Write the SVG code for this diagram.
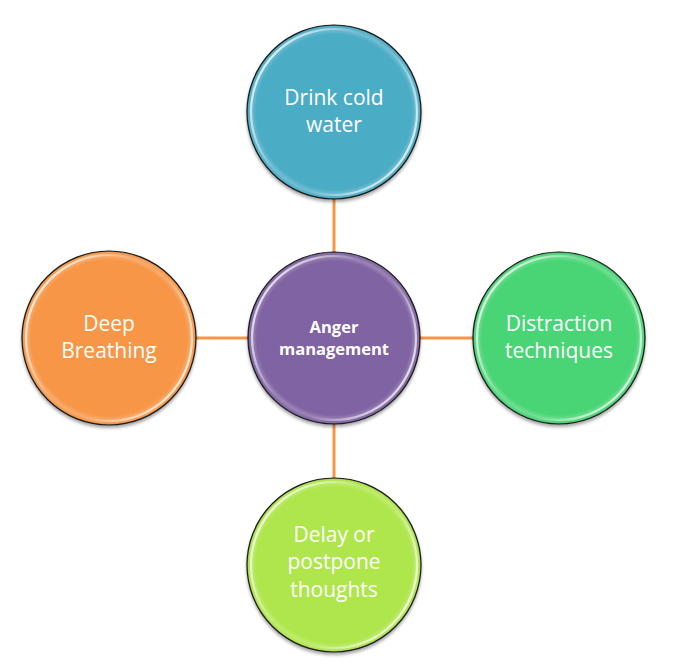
<svg xmlns="http://www.w3.org/2000/svg" width="682" height="666" viewBox="0 0 682 666">
  <style>
    .conn { stroke: #F79646; stroke-width: 3; fill: none; }
    .node { stroke: #1a1a1a; stroke-width: 1.2; filter: url(#shadow); }
    .gloss { fill: url(#gloss); stroke: none; }
    .ring { fill: none; stroke: url(#ringgrad); stroke-width: 2.2; }
    .lbl { font-family: "Open Sans", "Noto Sans", "Liberation Sans", sans-serif; font-size: 21px; fill: #ffffff; text-anchor: middle; }
    .lblc { font-family: "Open Sans", "Noto Sans", "Liberation Sans", sans-serif; font-size: 16.5px; font-weight: bold; fill: #ffffff; text-anchor: middle; }
  </style>
  <defs>
    <filter id="shadow" x="-20%" y="-20%" width="140%" height="140%">
      <feDropShadow dx="0" dy="2.5" stdDeviation="1.8" flood-color="#000" flood-opacity="0.35"/>
    </filter>
    <radialGradient id="gloss" cx="0.5" cy="0.5" r="0.5">
      <stop offset="0.9" stop-color="#ffffff" stop-opacity="0"/>
      <stop offset="0.955" stop-color="#ffffff" stop-opacity="0.22"/>
      <stop offset="0.985" stop-color="#ffffff" stop-opacity="0.05"/>
      <stop offset="1" stop-color="#000000" stop-opacity="0.25"/>
    </radialGradient>
    <linearGradient id="ringgrad" x1="0" y1="0.2" x2="1" y2="0.8">
      <stop offset="0" stop-color="#ffffff" stop-opacity="0.85"/>
      <stop offset="0.2" stop-color="#ffffff" stop-opacity="0.5"/>
      <stop offset="0.4" stop-color="#ffffff" stop-opacity="0"/>
      <stop offset="0.6" stop-color="#ffffff" stop-opacity="0"/>
      <stop offset="0.8" stop-color="#ffffff" stop-opacity="0.5"/>
      <stop offset="1" stop-color="#ffffff" stop-opacity="0.85"/>
    </linearGradient>
  </defs>
  <rect width="682" height="666" fill="#ffffff"/>
  <g id="connectors">
    <line class="conn" x1="334" y1="198" x2="334" y2="252"/>
    <line class="conn" x1="334" y1="424" x2="334" y2="478"/>
    <line class="conn" x1="196" y1="338" x2="248" y2="338"/>
    <line class="conn" x1="420" y1="338" x2="473" y2="338"/>
  </g>
  <g id="node-top">
    <circle class="node" cx="334" cy="112" r="87" fill="#4BACC6"/>
    <circle class="gloss" cx="334" cy="112" r="86.4"/>
    <circle class="ring" cx="334" cy="112" r="83"/>
    <text class="lbl" x="334" y="105">Drink cold</text>
    <text class="lbl" x="334" y="132">water</text>
  </g>
  <g id="node-center">
    <circle class="node" cx="334" cy="338" r="86" fill="#8064A2"/>
    <circle class="gloss" cx="334" cy="338" r="85.4"/>
    <circle class="ring" cx="334" cy="338" r="82"/>
    <text class="lblc" x="334" y="333">Anger</text>
    <text class="lblc" x="334" y="355">management</text>
  </g>
  <g id="node-left">
    <circle class="node" cx="109" cy="338" r="87" fill="#F79646"/>
    <circle class="gloss" cx="109" cy="338" r="86.4"/>
    <circle class="ring" cx="109" cy="338" r="83"/>
    <text class="lbl" x="109" y="331">Deep</text>
    <text class="lbl" x="109" y="358">Breathing</text>
  </g>
  <g id="node-right">
    <circle class="node" cx="559" cy="338" r="86" fill="#4AD574"/>
    <circle class="gloss" cx="559" cy="338" r="85.4"/>
    <circle class="ring" cx="559" cy="338" r="82"/>
    <text class="lbl" x="559" y="331">Distraction</text>
    <text class="lbl" x="559" y="358">techniques</text>
  </g>
  <g id="node-bottom">
    <circle class="node" cx="334" cy="565" r="87" fill="#AEE64B"/>
    <circle class="gloss" cx="334" cy="565" r="86.4"/>
    <circle class="ring" cx="334" cy="565" r="83"/>
    <text class="lbl" x="334" y="542">Delay or</text>
    <text class="lbl" x="334" y="569">postpone</text>
    <text class="lbl" x="334" y="597">thoughts</text>
  </g>
</svg>
